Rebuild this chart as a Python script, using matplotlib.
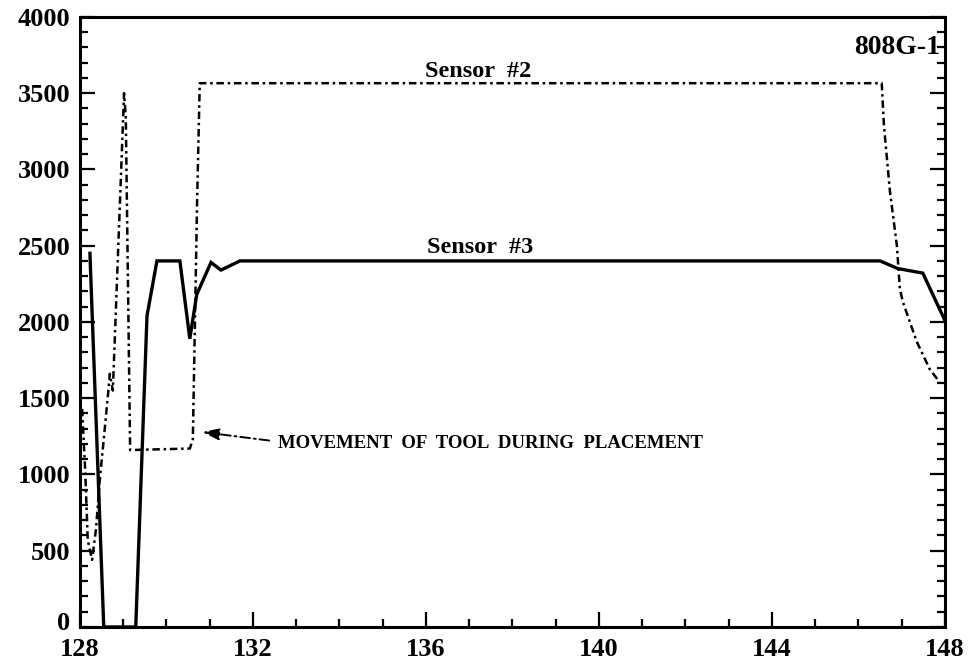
import matplotlib
matplotlib.use("Agg")
import matplotlib.pyplot as plt
from matplotlib.ticker import MultipleLocator
from matplotlib.transforms import ScaledTranslation

# Sensor #3 (solid)
s3_x = [128.23, 128.55, 129.29, 129.55, 129.78, 130.31, 130.54, 130.70, 131.03, 131.26, 131.70,
        146.50, 146.91, 147.49, 148.00]
s3_y = [2450, 0, 0, 2040, 2400, 2400, 1890, 2180, 2390, 2340, 2400,
        2400, 2350, 2320, 2010]

# Sensor #2 (dash-dot)
s2_x = [128.05, 128.12, 128.18, 128.28, 128.37, 128.46, 128.55, 128.65, 128.69, 128.76,
        129.02, 129.06, 129.16, 130.54, 130.61, 130.71, 130.77, 146.54, 146.59, 146.73,
        146.89, 146.96, 147.03, 147.35, 147.65, 147.88]
s2_y = [1430, 1030, 570, 440, 640, 970, 1230, 1530, 1660, 1550,
        3500, 3340, 1160, 1170, 1230, 2810, 3565, 3565, 3290, 2855,
        2500, 2215, 2130, 1870, 1690, 1605]

x_ticks = [128, 132, 136, 140, 144, 148]
y_ticks = [0, 500, 1000, 1500, 2000, 2500, 3000, 3500, 4000]

serif = ["Liberation Serif", "DejaVu Serif"]

fig = plt.figure(figsize=(9.74, 6.69), dpi=100)
ax = fig.add_axes([0.0821, 0.0628, 0.888, 0.912])

ax.plot(s3_x, s3_y, color="black", lw=2.4, solid_joinstyle="miter")
ax.plot(s2_x, s2_y, color="black", lw=1.8, linestyle=(0, (3, 1.5, 1, 1.5)))

ax.set_xlim(128, 148)
ax.set_ylim(0, 4000)
ax.set_xticks(x_ticks)
ax.set_yticks(y_ticks)
ax.xaxis.set_minor_locator(MultipleLocator(1))
ax.yaxis.set_minor_locator(MultipleLocator(100))
ax.tick_params(which="both", direction="in", left=True, right=True, top=False, bottom=True,
               width=1.6, color="black")
ax.tick_params(which="major", length=11)
ax.tick_params(which="minor", length=6)
ax.tick_params(axis="x", pad=8)
ax.tick_params(axis="y", pad=7)
for lab in ax.get_xticklabels() + ax.get_yticklabels():
    lab.set_fontfamily(serif)
    lab.set_fontweight("bold")
    lab.set_fontsize(19)
for sp in ax.spines.values():
    sp.set_linewidth(2.2)

# raise the "0" label slightly, as in the reference
fig.canvas.draw()
zero_lab = ax.get_yticklabels()[0]
zero_lab.set_transform(zero_lab.get_transform() + ScaledTranslation(0, 6 / 100, fig.dpi_scale_trans))

ax.text(147.88, 3797, "808G-1", ha="right", va="center", fontsize=20,
        fontweight="bold", family=serif)
ax.text(137.2, 3645, "Sensor  #2", ha="center", va="center", fontsize=17.5,
        fontweight="bold", family=serif)
ax.text(137.25, 2485, "Sensor  #3", ha="center", va="center", fontsize=17.5,
        fontweight="bold", family=serif)
ax.text(132.58, 1205, "MOVEMENT  OF  TOOL  DURING  PLACEMENT", ha="left", va="center",
        fontsize=13.5, fontweight="bold", family=serif)
ax.annotate("", xy=(130.77, 1280), xytext=(132.44, 1220),
            arrowprops=dict(arrowstyle="-|>,head_length=1.0,head_width=0.35",
                            color="black", lw=1.4, linestyle=(0, (5, 2, 1, 2))))

fig.savefig("out.png", dpi=100)
